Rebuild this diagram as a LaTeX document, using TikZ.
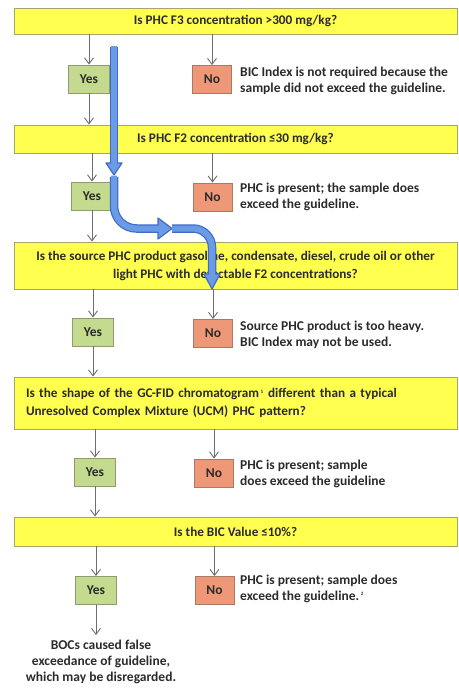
\documentclass[tikz,border=0pt]{standalone}
\usepackage{fontspec}
\setmainfont{Carlito}
\usetikzlibrary{arrows.meta}
\definecolor{ybox}{HTML}{FFFF50}
\definecolor{yborder}{HTML}{A4A46C}
\definecolor{gfill}{HTML}{C4DA8E}
\definecolor{gborder}{HTML}{8C9C70}
\definecolor{rfill}{HTML}{EE9878}
\definecolor{rborder}{HTML}{A87868}
\definecolor{conn}{HTML}{6E6E6E}
\definecolor{bfill}{HTML}{6C9BE6}
\definecolor{bline}{HTML}{3E6CC8}
\definecolor{txt}{HTML}{2B2B2B}
\begin{document}
\begin{tikzpicture}[x=1pt,y=-1pt,
  every node/.style={font=\fontsize{13.5}{16}\selectfont\bfseries, text=txt},
  qbox/.style={draw=yborder, fill=ybox, line width=0.9pt, minimum width=443pt,
     inner xsep=0pt, inner ysep=0pt, align=center,
     font=\fontsize{13.2}{18}\selectfont\bfseries},
  yesbox/.style={draw=gborder, fill=gfill, line width=0.9pt, minimum width=41pt,
     minimum height=28pt, inner sep=0pt},
  nobox/.style={draw=rborder, fill=rfill, line width=0.9pt, minimum width=39pt,
     minimum height=28pt, inner sep=0pt},
  note/.style={anchor=west, align=left, inner sep=0pt},
  gar/.style={draw=conn, line width=0.9pt, -{Straight Barb[length=6pt,width=9pt]}},
  bshaft/.style={draw=bline, line width=8.5pt},
  binner/.style={draw=bfill, line width=6pt},
  bhead/.style={fill=bfill, draw=bline, line width=1.2pt, line join=round}
]
\useasboundingbox (0,0) rectangle (458,690);

% question boxes
\node[qbox, minimum height=26pt] (q1) at (235.5,21) {Is PHC F3 concentration >300 mg/kg?};
\node[qbox, minimum height=28pt] (q2) at (235.5,139) {Is PHC F2 concentration ≤30 mg/kg?};
\node[qbox, minimum height=47pt] (q3) at (235.5,265.5) {Is the source PHC product gasoline, condensate, diesel, crude oil or other\\light PHC with detectable F2 concentrations?};
\node[qbox, minimum height=52pt, text width=419pt, inner xsep=12pt, align=left] (q4) at (235.5,403) {Is the shape of the GC-FID chromatogram\textsuperscript{\,\tiny 1} different than a typical\\Unresolved Complex Mixture (UCM) PHC pattern?};
\node[qbox, minimum height=29pt] (q5) at (235.5,531.5) {Is the BIC Value ≤10\%?};

% yes boxes
\node[yesbox] (y1) at (89,79) {Yes};
\node[yesbox] (y2) at (92,196) {Yes};
\node[yesbox] (y3) at (93,332) {Yes};
\node[yesbox] (y4) at (95,472) {Yes};
\node[yesbox] (y5) at (96,590.5) {Yes};

% no boxes
\node[nobox] (n1) at (212,79.5) {No};
\node[nobox] (n2) at (212.5,197) {No};
\node[nobox] (n3) at (213,333.5) {No};
\node[nobox] (n4) at (214,473) {No};
\node[nobox] (n5) at (214.5,590.5) {No};

% notes
\node[note] (t1) at (240,81) {BIC Index is not required because the\\sample did not exceed the guideline.};
\node[note] (t2) at (240,197) {PHC is present; the sample does\\exceed the guideline.};
\node[note] (t3) at (240,335) {Source PHC product is too heavy.\\BIC Index may not be used.};
\node[note] (t4) at (240,474) {PHC is present; sample\\does exceed the guideline};
\node[note] (t5) at (240,589) {PHC is present; sample does\\exceed the guideline.\textsuperscript{\,\tiny 2}};

\node[align=center, inner sep=0pt, anchor=north] (fin) at (101,640) {BOCs caused false\\exceedance of guideline,\\which may be disregarded.};

% grey connectors
\foreach \q/\y/\n in {q1/y1/n1, q2/y2/n2, q3/y3/n3, q4/y4/n4, q5/y5/n5}{
  \draw[gar] (\y.north |- \q.south) -- (\y.north);
  \draw[gar] (\n.north |- \q.south) -- (\n.north);
}
\draw[gar] (y1.south) -- (y1.south |- q2.north);
\draw[gar] (y2.south) -- (y2.south |- q3.north);
\draw[gar] (y3.south) -- (y3.south |- q4.north);
\draw[gar] (y4.south) -- (y4.south |- q5.north);
\draw[gar] (y5.south) -- ([yshift=5pt]y5.south |- fin.north);

% blue highlight arrows
\coordinate (a1s) at (114,47);
\coordinate (a1b) at (114,163);
\coordinate (a1t) at (114,175);
\draw[bshaft] (a1s) -- (a1b);
\draw[bhead] (106,163) -- (122,163) -- (a1t) -- cycle;
\draw[binner] ([yshift=1.3pt]a1s) -- ([yshift=-0.8pt]a1b);

\coordinate (a2s) at (114,177);
\coordinate (a2b) at (158,228.5);
\coordinate (a2t) at (172,228.5);
\draw[bshaft] (a2s) -- (114,206) arc[start angle=180, end angle=90, radius=22.5] -- (a2b);
\draw[bhead] (158,218) -- (a2t) -- (158,239) -- cycle;
\draw[binner] ([yshift=1.3pt]a2s) -- (114,206) arc[start angle=180, end angle=90, radius=22.5] -- ([xshift=0.8pt]a2b);

\coordinate (a3s) at (172,228.5);
\coordinate (a3b) at (212,274);
\coordinate (a3t) at (212,289);
\draw[bshaft] (a3s) -- (193,228.5) arc[start angle=-90, end angle=0, radius=19] -- (a3b);
\draw[bhead] (204,274) -- (220,274) -- (a3t) -- cycle;
\draw[binner] (a3s) -- (193,228.5) arc[start angle=-90, end angle=0, radius=19] -- ([yshift=-0.8pt]a3b);
\end{tikzpicture}
\end{document}
